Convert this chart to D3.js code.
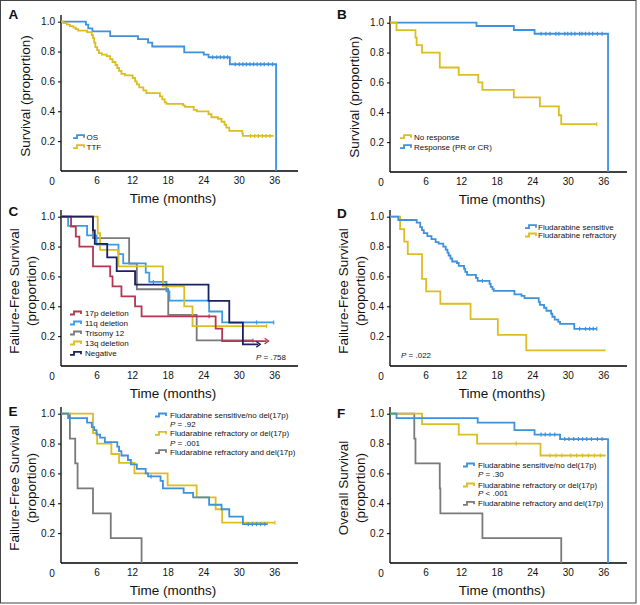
<!DOCTYPE html>
<html><head><meta charset="utf-8">
<script src="https://cdn.jsdelivr.net/npm/d3@7"></script>
<style>
html,body{margin:0;padding:0;background:#fff;}
text{font-family:"Liberation Sans Narrow","Liberation Sans",Arial,sans-serif;fill:#111;}
</style></head>
<body><svg id="c" width="640" height="605"></svg>
<script>
// ---------- data ----------
const xTicks = [6, 12, 18, 24, 30, 36];
const yTicks = [0.2, 0.4, 0.6, 0.8, 1.0];

// Panel A
const osT = [4.2, 4.6, 5.3, 8.3, 13.0, 14.7, 15.4, 20.8, 24.1, 24.9, 28.5, 36.3];
const osS = [0.98, 0.955, 0.935, 0.904, 0.883, 0.86, 0.834, 0.794, 0.78, 0.762, 0.715, 0];
const osC = [25.6, 26.3, 26.9, 27.5, 28.1, 29.4, 30.1, 30.7, 31.3, 31.9, 32.5, 33.1, 33.7, 34.3, 35.0, 35.7];
const ttfT = [0.4, 1.0, 1.5, 2.1, 2.5, 2.9, 4.4, 5.2, 5.4, 5.6, 5.8, 6.1, 6.4, 6.9, 7.7, 8.3, 8.7, 9.2, 9.5, 9.8, 10.2, 10.8, 12.1, 12.5, 12.8, 13.2, 13.9, 14.4, 16.7, 17.1, 17.5, 17.8, 20.6, 20.9, 22.4, 22.9, 24.9, 25.4, 26.5, 27.1, 27.6, 27.9, 28.4, 30.6, 30.7, 35.9];
const ttfS = [0.99, 0.98, 0.97, 0.96, 0.95, 0.94, 0.93, 0.91, 0.89, 0.86, 0.83, 0.81, 0.79, 0.78, 0.77, 0.75, 0.73, 0.71, 0.69, 0.67, 0.65, 0.64, 0.623, 0.60, 0.58, 0.56, 0.54, 0.522, 0.50, 0.48, 0.46, 0.45, 0.44, 0.43, 0.41, 0.40, 0.38, 0.36, 0.35, 0.33, 0.31, 0.29, 0.269, 0.25, 0.235, 0.235];
const ttfC = [32.0, 32.7, 33.3, 34.0, 34.6, 35.3];

// Panel B
const respT = [14.6, 20.9, 24.4, 36.8];
const respS = [0.978, 0.951, 0.926, 0];
const respC = [25.5, 26.3, 27.0, 28.0, 28.5, 29.5, 30.0, 30.6, 31.2, 32.0, 32.4, 33.0, 33.6, 34.2, 35.0, 35.8];
const noRespT = [1.1, 4.3, 4.5, 5.4, 8.4, 11.6, 14.9, 15.6, 20.9, 25.3, 28.5, 28.9, 34.9];
const noRespS = [0.95, 0.90, 0.85, 0.80, 0.70, 0.65, 0.60, 0.55, 0.50, 0.44, 0.38, 0.32, 0.32];
const noRespC = [34.9];

// Panel C
const del17T = [1.7, 2.5, 3.1, 5.4, 8.3, 8.7, 10.2, 12.5, 13.6, 26.1, 27.2, 34.7];
const del17S = [0.933, 0.867, 0.80, 0.667, 0.60, 0.533, 0.467, 0.40, 0.333, 0.25, 0.167, 0.167];
const del17C = [25.0];
const del11T = [1.2, 4.4, 6.0, 9.7, 10.5, 14.3, 14.9, 17.8, 18.3, 25.0, 27.2, 35.9];
const del11S = [0.938, 0.875, 0.813, 0.75, 0.688, 0.625, 0.563, 0.50, 0.438, 0.365, 0.292, 0.292];
const del11C = [15.6, 33.0, 35.9];
const tri12T = [5.4, 11.5, 12.8, 18.1, 22.9, 32.4];
const tri12S = [0.857, 0.686, 0.514, 0.343, 0.171, 0.171];
const tri12C = [32.4];
const del13T = [6.2, 6.6, 9.7, 17.2, 20.8, 22.2, 34.7];
const del13S = [0.889, 0.778, 0.667, 0.533, 0.40, 0.267, 0.267];
const del13C = [34.7];
const negT = [5.4, 5.7, 7.8, 9.4, 12.5, 24.9, 28.4, 30.7, 33.3];
const negS = [0.909, 0.818, 0.727, 0.636, 0.545, 0.436, 0.291, 0.145, 0.145];
const negC = [];

// Panel D
const sensT = [1.4, 4.5, 5.1, 5.4, 5.7, 6.3, 7.0, 7.7, 8.2, 9.0, 9.4, 9.7, 9.9, 10.2, 10.5, 11.3, 11.6, 12.5, 12.7, 13.0, 14.5, 14.8, 16.8, 17.0, 17.3, 17.5, 21.0, 22.2, 22.7, 25.1, 25.3, 26.0, 26.4, 27.2, 27.4, 27.8, 28.4, 28.7, 31.1, 34.9];
const sensS = [0.978, 0.96, 0.93, 0.91, 0.89, 0.87, 0.85, 0.83, 0.82, 0.80, 0.78, 0.76, 0.74, 0.72, 0.70, 0.69, 0.67, 0.65, 0.63, 0.61, 0.59, 0.57, 0.55, 0.53, 0.515, 0.503, 0.48, 0.47, 0.454, 0.43, 0.41, 0.39, 0.37, 0.35, 0.33, 0.31, 0.295, 0.282, 0.249, 0.249];
const sensC = [15.6, 32.0, 33.0, 33.7, 34.3, 34.9];
const refrT = [1.7, 2.4, 3.0, 5.4, 6.1, 8.5, 13.6, 18.2, 23.0, 36.4];
const refrS = [0.917, 0.833, 0.75, 0.583, 0.50, 0.417, 0.314, 0.209, 0.104, 0.104];

// Panel E
const eSensT = [1.2, 4.4, 5.2, 5.6, 6.0, 6.6, 7.4, 9.5, 9.8, 10.2, 11.3, 11.8, 12.8, 14.3, 14.7, 16.8, 17.2, 20.7, 22.3, 25.0, 27.1, 28.4, 30.7, 34.9];
const eSensS = [0.97, 0.94, 0.91, 0.89, 0.86, 0.84, 0.81, 0.78, 0.75, 0.72, 0.69, 0.66, 0.63, 0.60, 0.58, 0.55, 0.50, 0.47, 0.44, 0.39, 0.36, 0.31, 0.26, 0.26];
const eSensC = [15.2, 31.6, 32.3, 33.0, 33.7, 34.4];
const eOrT = [5.4, 6.1, 8.5, 9.8, 12.4, 18.0, 22.9, 26.1, 27.2, 36.1];
const eOrS = [0.87, 0.80, 0.73, 0.67, 0.60, 0.52, 0.44, 0.36, 0.27, 0.27];
const eOrC = [36.1];
const eAndT = [1.5, 2.4, 2.8, 5.4, 8.4, 13.6];
const eAndS = [0.833, 0.667, 0.50, 0.333, 0.167, 0];

// Panel F
const fSensT = [1.1, 14.8, 21.0, 24.4, 28.7, 36.8];
const fSensS = [0.97, 0.94, 0.89, 0.86, 0.83, 0];
const fSensC = [25.5, 26.2, 27.0, 27.8, 29.5, 30.2, 31.0, 31.8, 32.5, 33.2, 34.0, 35.0, 35.8];
const fOrT = [5.4, 11.6, 14.7, 25.4, 36.4];
const fOrS = [0.93, 0.86, 0.80, 0.72, 0.72];
const fOrC = [21.3, 27.0, 28.0, 29.0, 30.5, 31.5, 32.5, 33.5, 34.5, 35.5];
const fAndT = [4.1, 4.3, 8.4, 8.5, 15.6, 28.9];
const fAndS = [0.833, 0.667, 0.50, 0.333, 0.167, 0];

// ---------- drawing ----------
const BLUE = "#3d91dd", GOLD = "#dcbd22", RED = "#b43650", GRAY = "#7a7a7a", NAVY = "#1b2262", LBLUE = "#3b9be6";
const svg = d3.select("#c");
svg.append("rect").attr("x", 0.5).attr("y", 0.5).attr("width", 635.5).attr("height", 602.5)
  .attr("fill", "none").attr("stroke", "#444").attr("stroke-width", 1);

const panels = [
  {letter: "A", lx: 8.5, ly: 19.3, x0: 61, y0: 171, ytitle: ["Survival (proportion)"],
   curves: [{t: osT, s: osS, c: osC, col: BLUE}, {t: ttfT, s: ttfS, c: ttfC, col: GOLD}],
   legend: {sx: 73, tx: 86.5, rows: [[136.7, "OS", BLUE], [146.7, "TTF", GOLD]]}, notes: []},
  {letter: "B", lx: 337, ly: 19.3, x0: 390, y0: 172, ytitle: ["Survival (proportion)"],
   curves: [{t: respT, s: respS, c: respC, col: BLUE}, {t: noRespT, s: noRespS, c: noRespC, col: GOLD}],
   legend: {sx: 400, tx: 414, rows: [[136.7, "No response", GOLD], [146.7, "Response (PR or CR)", BLUE]]}, notes: []},
  {letter: "C", lx: 8.5, ly: 216, x0: 61, y0: 366, ytitle: ["Failure-Free Survival", "(proportion)"],
   curves: [{t: tri12T, s: tri12S, c: tri12C, col: GRAY}, {t: del11T, s: del11S, c: del11C, col: LBLUE},
            {t: del13T, s: del13S, c: del13C, col: GOLD}, {t: del17T, s: del17S, c: del17C, col: RED, arrow: true},
            {t: negT, s: negS, c: negC, col: NAVY, arrow: true}],
   legend: {sx: 70, tx: 85, rows: [[313, "17p deletion", RED], [323, "11q deletion", LBLUE], [333, "Trisomy 12", GRAY], [343, "13q deletion", GOLD], [353.3, "Negative", NAVY]]},
   notes: [{x: 286, y: 357, anchor: "end", p: "P", rest: " = .758"}]},
  {letter: "D", lx: 337, ly: 218, x0: 390, y0: 366, ytitle: ["Failure-Free Survival", "(proportion)"],
   curves: [{t: refrT, s: refrS, c: [], col: GOLD}, {t: sensT, s: sensS, c: sensC, col: BLUE}],
   legend: {sx: 525, tx: 538, rows: [[226.7, "Fludarabine sensitive", BLUE], [235, "Fludarabine refractory", GOLD]]},
   notes: [{x: 401, y: 355, anchor: "start", p: "P", rest: " = .022"}]},
  {letter: "E", lx: 8.5, ly: 416, x0: 61, y0: 563, ytitle: ["Failure-Free Survival", "(proportion)"],
   curves: [{t: eAndT, s: eAndS, c: [], col: GRAY}, {t: eOrT, s: eOrS, c: eOrC, col: GOLD}, {t: eSensT, s: eSensS, c: eSensC, col: BLUE}],
   legend: {sx: 155, tx: 170, rows: [[415, "Fludarabine sensitive/no del(17p)", BLUE], [433.3, "Fludarabine refractory or del(17p)", GOLD], [451.7, "Fludarabine refractory and del(17p)", GRAY]]},
   notes: [{x: 170, y: 424, anchor: "start", p: "P", rest: " = .92"}, {x: 170, y: 442.7, anchor: "start", p: "P", rest: " = .001"}]},
  {letter: "F", lx: 337, ly: 418, x0: 390, y0: 563, ytitle: ["Overall Survival", "(proportion)"],
   curves: [{t: fAndT, s: fAndS, c: [], col: GRAY}, {t: fOrT, s: fOrS, c: fOrC, col: GOLD}, {t: fSensT, s: fSensS, c: fSensC, col: BLUE}],
   legend: {sx: 463, tx: 478, rows: [[465, "Fludarabine sensitive/no del(17p)", BLUE], [485, "Fludarabine refractory or del(17p)", GOLD], [503.3, "Fludarabine refractory and del(17p)", GRAY]]},
   notes: [{x: 478, y: 474.3, anchor: "start", p: "P", rest: " = .30"}, {x: 478, y: 492.7, anchor: "start", p: "P", rest: " < .001"}]}
];

panels.forEach(P => {
  const x = d3.scaleLinear().domain([0, 40]).range([P.x0, P.x0 + 237]);
  const y = d3.scaleLinear().domain([0, 1]).range([P.y0, P.y0 - 149.3]);
  const g = svg.append("g");

  g.append("text").attr("x", P.lx).attr("y", P.ly).text(P.letter)
    .style("font-family", "'Liberation Sans',Arial,sans-serif").style("font-weight", "bold").style("font-size", "13.5px");

  const ya = d3.axisLeft(y).tickValues(yTicks).tickFormat(d3.format(".1f")).tickSize(3).tickPadding(3);
  const yg = g.append("g").attr("transform", `translate(${P.x0},0)`).call(ya);
  yg.select(".domain").remove();
  yg.selectAll("text").style("font-size", "10px");
  g.append("line").attr("x1", P.x0).attr("x2", P.x0).attr("y1", P.y0).attr("y2", y(1.045))
    .attr("stroke", "#000").attr("stroke-width", 1.3);

  const xa = d3.axisBottom(x).tickValues(xTicks).tickSize(0).tickPadding(6);
  const xg = g.append("g").attr("transform", `translate(0,${P.y0})`).call(xa);
  xg.select(".domain").remove();
  xg.selectAll("text").style("font-size", "10px");
  g.append("line").attr("x1", P.x0).attr("x2", x(40)).attr("y1", P.y0).attr("y2", P.y0)
    .attr("stroke", "#000").attr("stroke-width", 1.3);
  g.append("text").attr("x", P.x0 - 9).attr("y", P.y0 + 10).attr("dy", "0.35em")
    .attr("text-anchor", "middle").style("font-size", "10px").text("0");

  g.append("text").attr("x", P.x0 + 112).attr("y", P.y0 + 27).attr("dy", "0.35em")
    .attr("text-anchor", "middle").style("font-size", "13.5px").text("Time (months)");
  const cy = P.y0 - 75;
  const offs = P.ytitle.length === 1 ? [36] : [47, 30];
  P.ytitle.forEach((t, i) => {
    const tx = P.x0 - offs[i];
    g.append("text").attr("transform", `translate(${tx},${cy}) rotate(-90)`).attr("dy", "0.35em")
      .attr("text-anchor", "middle").style("font-size", "13.5px").text(t);
  });

  const line = d3.line().x(d => x(d[0])).y(d => y(d[1])).curve(d3.curveStepAfter);
  const surv = (c, tt) => { let v = 1; c.t.forEach((t, i) => { if (t <= tt) v = c.s[i]; }); return v; };
  P.curves.forEach(c => {
    const pts = [[0, 1]].concat(c.t.map((t, i) => [t, c.s[i]]));
    g.append("path").attr("d", line(pts)).attr("fill", "none").attr("stroke", c.col).attr("stroke-width", 1.8);
    c.c.forEach(t => {
      const v = surv(c, t);
      g.append("line").attr("x1", x(t)).attr("x2", x(t)).attr("y1", y(v) - 2).attr("y2", y(v) + 2)
        .attr("stroke", c.col).attr("stroke-width", 1.2);
    });
    if (c.arrow) {
      const te = c.t[c.t.length - 1], ve = c.s[c.s.length - 1];
      const ex = x(te) + 2, ey = y(ve);
      g.append("path").attr("d", `M${ex - 4},${ey - 2.8}L${ex},${ey}L${ex - 4},${ey + 2.8}`)
        .attr("fill", "none").attr("stroke", c.col).attr("stroke-width", 1.3);
    }
  });

  P.legend.rows.forEach(r => {
    const sx = P.legend.sx, yy = r[0];
    g.append("path").attr("d", `M${sx},${yy + 1.5}H${sx + 4}V${yy - 1.5}H${sx + 11}V${yy + 1}`)
      .attr("fill", "none").attr("stroke", r[2]).attr("stroke-width", 1.8);
    g.append("text").attr("x", P.legend.tx).attr("y", yy).attr("dy", "0.35em")
      .style("font-size", "8px").text(r[1]);
  });
  P.notes.forEach(n => {
    const t = g.append("text").attr("x", n.x).attr("y", n.y).attr("dy", "0.35em")
      .attr("text-anchor", n.anchor).style("font-size", "8px");
    t.append("tspan").style("font-style", "italic").text(n.p);
    t.append("tspan").text(n.rest);
  });
});
</script></body></html>
